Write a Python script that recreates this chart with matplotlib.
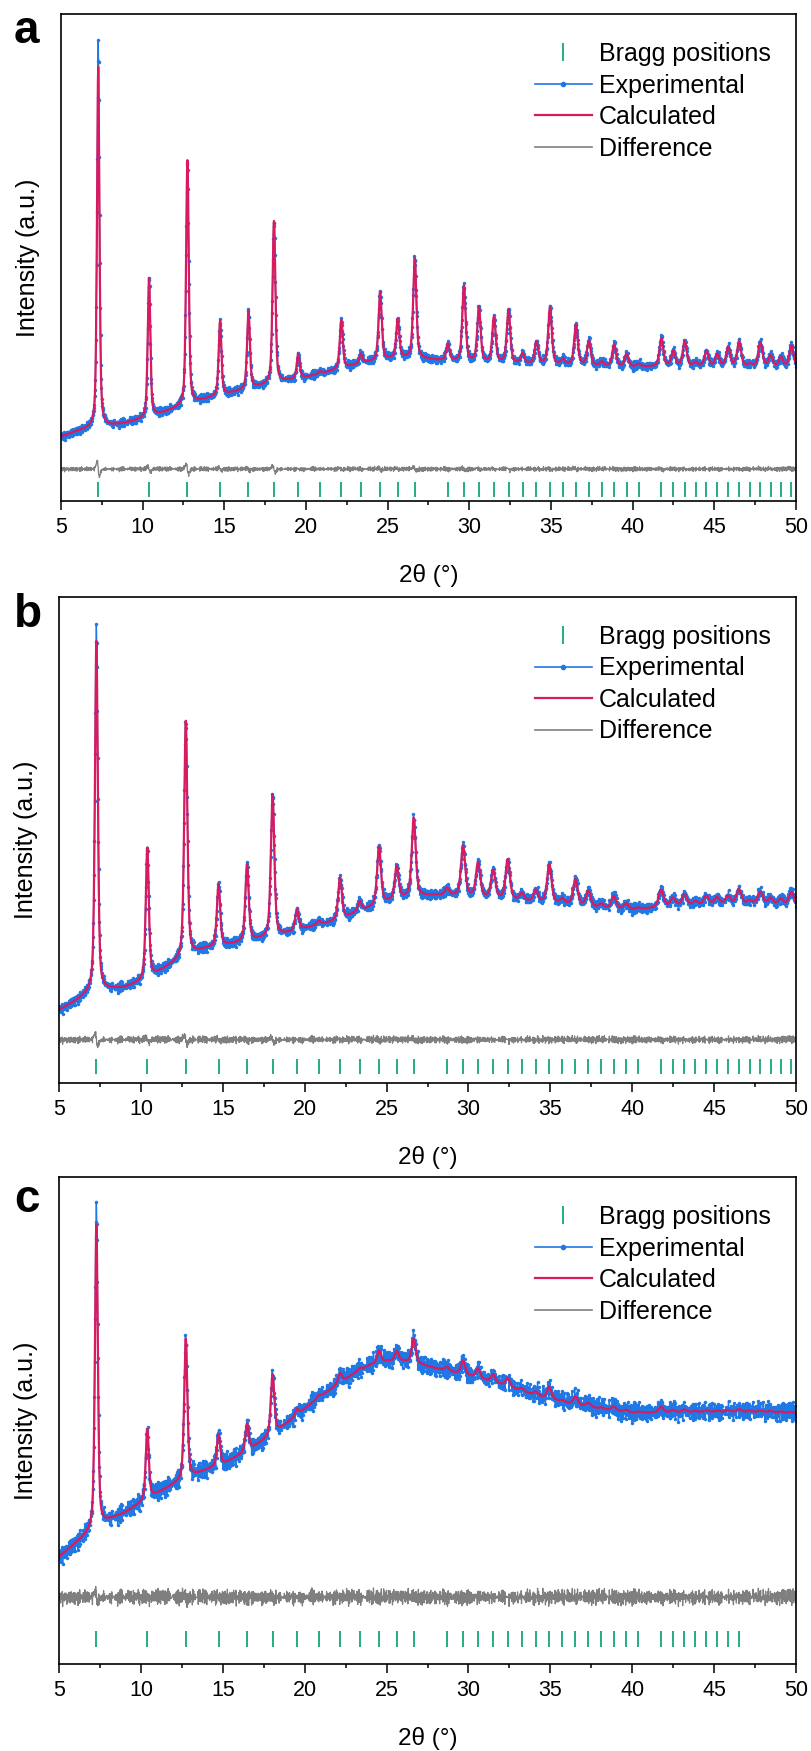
import numpy as np
import matplotlib.pyplot as plt
from matplotlib.lines import Line2D
from matplotlib.ticker import MultipleLocator

plt.rcParams['font.family'] = ['Liberation Sans', 'DejaVu Sans']

# reflection positions (2theta, deg)
bragg_pos = [7.28, 10.39, 12.74, 14.74, 16.48, 18.04, 19.53, 20.86, 22.16, 23.36,
             24.54, 25.62, 26.66, 28.69, 29.67, 30.59, 31.51, 32.40, 33.26, 34.11,
             34.94, 35.73, 36.53, 37.32, 38.11, 38.87, 39.63, 40.36, 41.76, 42.49,
             43.19, 43.85, 44.52, 45.18, 45.85, 46.52, 47.18, 47.82, 48.45, 49.08,
             49.72]

# intensities are in % of the panel height
bg_x = [5, 6, 7, 8, 9, 10, 11, 12, 13, 14, 15, 16, 17, 18, 19, 20, 21, 22, 23,
        24, 25, 26, 27, 28, 30, 32, 34, 36, 38, 40, 42, 45, 48, 50]

a_bg = [13.2, 14.3, 15.0, 15.4, 16.0, 16.8, 17.8, 18.9, 20.0, 21.0, 21.8, 22.6,
        23.4, 24.1, 24.8, 25.4, 26.2, 27.0, 27.9, 28.6, 29.1, 29.3, 29.2, 28.9,
        28.5, 28.3, 28.1, 27.9, 27.7, 27.5, 27.6, 27.6, 27.5, 27.4]
a_peaks = [74.0, 28.8, 50.2, 15.3, 16.0, 33.3, 5.0, 0.5, 10.0, 2.0,
           14.0, 8.0, 20.6, 3.4, 15.6, 11.2, 9.3, 11.0, 2.0, 4.5,
           11.7, 1.1, 8.3, 5.1, 0.8, 4.5, 2.6, 0.6, 5.8, 3.1,
           5.1, 0.8, 3.1, 2.5, 3.9, 5.1, 0.5, 5.0, 2.3, 2.0,
           4.5]
a_first_obs = 78.8

b_bg = [15.0, 16.8, 18.8, 19.2, 19.6, 20.8, 22.6, 24.6, 26.4, 27.6, 28.2, 28.8,
        29.4, 30.0, 30.8, 31.8, 32.6, 33.4, 34.8, 36.0, 37.2, 38.0, 38.4, 38.6,
        38.4, 37.8, 37.2, 36.7, 36.0, 35.6, 36.2, 36.7, 36.6, 36.3]
b_peaks = [72.0, 27.0, 48.5, 12.8, 15.8, 29.3, 4.3, 0.8, 8.6, 2.0,
           11.9, 6.8, 16.2, 1.5, 10.3, 7.0, 5.7, 8.2, 1.5, 2.4,
           7.9, 1.0, 5.3, 3.2, 0.8, 2.6, 1.2, 0.3, 3.6, 1.7,
           2.3, 0.8, 1.8, 1.4, 1.7, 3.1, 0.8, 2.6, 1.4, 1.4,
           2.9]
b_first_obs = 74.5

c_bg = [22.0, 24.7, 27.3, 29.4, 31.0, 33.0, 35.0, 36.8, 38.4, 39.8, 41.0, 42.8,
        44.8, 47.0, 49.6, 52.4, 55.0, 57.4, 59.6, 61.4, 62.2, 62.2, 61.6, 60.7,
        59.2, 57.4, 55.2, 53.6, 52.4, 51.6, 51.6, 51.7, 51.7, 51.4]
c_peaks = [62.3, 14.5, 28.8, 6.5, 5.6, 12.4, 1.2, 0.5, 2.0, 0.5,
           2.5, 2.0, 5.0, 0.8, 2.8, 2.0, 1.6, 1.8, 0.6, 0.8,
           2.4, 0.3, 1.6, 0.8, 0.3, 0.8, 0.4, 0.2, 1.2, 0.5,
           0.6, 0.3, 0.4, 0.3, 0.4, 0.6, 0.3, 0.3, 0.3, 0.3,
           0.3]
c_first_obs = 65.5
c_n_ticks = 36

# hand-read scatter of the observed points about the fit (unit amplitude)
scatter_1 = [0.42, -0.87, 0.15, 0.63, -0.31, -0.74, 0.92, -0.08, 0.37, -0.55,
             0.71, -0.96, 0.24, 0.05, -0.43, 0.88, -0.19, -0.66, 0.53, 0.11,
             -0.92, 0.34, 0.79, -0.27, -0.58, 0.02, 0.67, -0.81, 0.46, -0.12,
             0.95, -0.39, -0.05, 0.58, -0.71, 0.29, -0.94, 0.83, 0.17, -0.48,
             0.61, -0.22, -0.77, 0.39, 0.08, -0.63, 0.86, -0.35, 0.21, -0.89,
             0.52, -0.16, 0.74]
scatter_2 = [-0.33, 0.76, -0.58, 0.19, 0.91, -0.44, -0.07, 0.65, -0.82, 0.28,
             0.49, -0.97, 0.13, 0.57, -0.26, -0.69, 0.84, -0.11, 0.36, -0.51,
             0.98, -0.38, 0.04, 0.72, -0.85, 0.23, -0.14, 0.61, -0.73, 0.45,
             0.09, -0.62, 0.87, -0.29, -0.46, 0.68, -0.03, 0.31, -0.91, 0.54,
             0.18, -0.77, 0.41, -0.24, 0.82, -0.56, 0.07]

panels = [
    # label, bg, peaks, first obs, hwhm lo/hi, scatter amp, diff offset, diff amp, tick rows, n ticks
    ('a', a_bg, a_peaks, a_first_obs, (0.085, 0.15), 1.1, 6.55, 0.6, (0.8, 3.9), 41),
    ('b', b_bg, b_peaks, b_first_obs, (0.10, 0.19), 1.3, 8.9, 0.95, (1.8, 5.0), 41),
    ('c', c_bg, c_peaks, c_first_obs, (0.10, 0.19), 2.3, 13.7, 2.0, (3.5, 6.7), c_n_ticks),
]

# axes boxes in figure fraction
boxes = [(0.0751, 0.7139, 0.9052, 0.2781),
         (0.0727, 0.3815, 0.9076, 0.2776),
         (0.0727, 0.0497, 0.9076, 0.2781)]
label_y = [1 - 43 / 1751, 1 - 627 / 1751, 1 - 1212 / 1751]

c_exp = '#1f78e3'
c_calc = '#d81b60'
c_diff = '#7f7f7f'
c_bragg = '#22ad84'

x = np.arange(5, 50.0001, 0.02)
pos = np.array(bragg_pos)
scat = 0.5 * (np.resize(scatter_1, x.size) + np.resize(scatter_2, x.size))


def pv(x, pos, amp, hw, eta=0.5):
    d = (x[:, None] - pos[None, :]) / hw[None, :]
    return (amp[None, :] * (eta / (1 + d ** 2) + (1 - eta) * np.exp(-np.log(2) * d ** 2))).sum(axis=1)


fig = plt.figure(figsize=(8.12, 17.51), dpi=100)

for (lab, bg, peaks, first_obs, hw, s_amp, d_off, d_amp, trow, nt), box, ly in zip(panels, boxes, label_y):
    ax = fig.add_axes(box)
    hwhm = hw[0] + (hw[1] - hw[0]) * (pos - 5) / 45
    amp_calc = np.array(peaks)
    amp_obs = amp_calc.copy()
    amp_obs[0] = first_obs
    back = np.interp(x, bg_x, bg)
    calc = back + pv(x, pos, amp_calc, hwhm)
    mismatch = pv(x, pos, amp_obs - amp_calc, hwhm)
    exp = calc + mismatch + s_amp * scat
    # residual wiggle around the strongest reflections
    wiggle = np.gradient(pv(x, pos, amp_calc, hwhm), x) * 0.003
    diff = d_off + d_amp * scat + np.clip(wiggle, -1.6, 1.6)

    ax.plot(x, exp, color=c_exp, lw=1.0, marker='o', ms=2.5, mew=0)
    ax.plot(x, calc, color=c_calc, lw=1.6)
    ax.plot(x, diff, color=c_diff, lw=0.9)
    ax.vlines(bragg_pos[:nt], trow[0], trow[1], color=c_bragg, lw=1.4)

    ax.set_xlim(5, 50)
    ax.set_ylim(0, 100)
    ax.set_yticks([])
    ax.xaxis.set_major_locator(MultipleLocator(5))
    ax.xaxis.set_minor_locator(MultipleLocator(2.5))
    ax.tick_params(axis='x', which='major', direction='out', length=6.5, width=1.1,
                   labelsize=15.5, pad=5)
    ax.tick_params(axis='x', which='minor', direction='out', length=3, width=1.1)
    for sp in ax.spines.values():
        sp.set_linewidth(1.2)
    ax.set_xlabel('2θ (°)', fontsize=17.5, labelpad=19)
    ax.set_ylabel('Intensity (a.u.)', fontsize=18)
    ax.yaxis.set_label_coords(-0.028, 0.5)

    handles = [Line2D([], [], color=c_bragg, marker='|', ls='None', ms=13, mew=1.4),
               Line2D([], [], color=c_exp, lw=1.2, marker='o', ms=3),
               Line2D([], [], color=c_calc, lw=1.6),
               Line2D([], [], color=c_diff, lw=1.2)]
    ax.legend(handles, ['Bragg positions', 'Experimental', 'Calculated', 'Difference'],
              loc='upper right', bbox_to_anchor=(0.966, 0.9425), frameon=False,
              fontsize=18, handlelength=2.3, handletextpad=0.28, labelspacing=0.3,
              borderpad=0, borderaxespad=0, markerfirst=True)

    fig.text(14 / 812, ly, lab, fontsize=33, fontweight='bold', va='baseline', ha='left')

fig.savefig('out.png', dpi=100)
